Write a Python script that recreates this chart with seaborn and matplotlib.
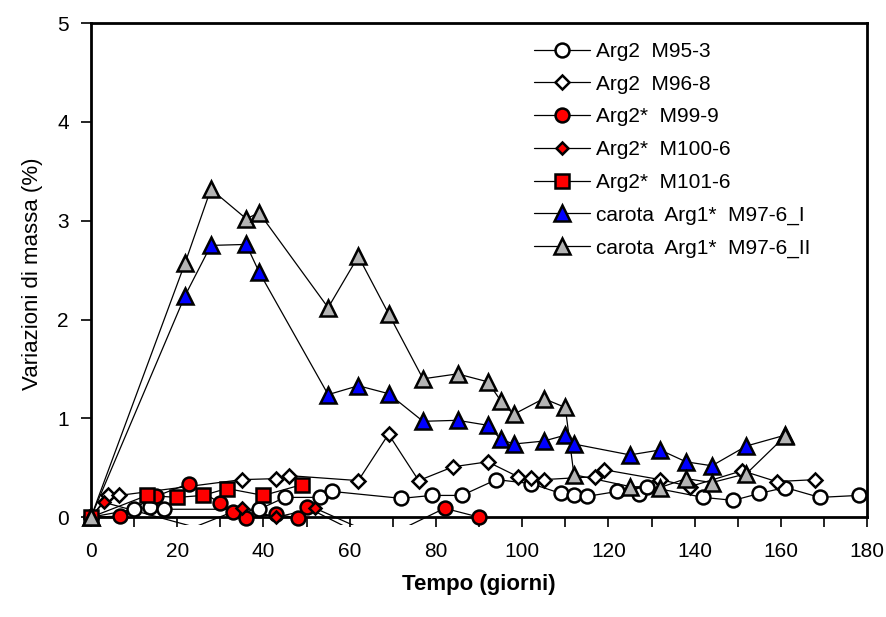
import numpy as np
import pandas as pd
import matplotlib.pyplot as plt
from matplotlib.lines import Line2D
from matplotlib.ticker import MultipleLocator
import seaborn as sns

# giorni / variazione di massa (%) per ciascun campione
days_m95 = [0, 10, 13.7, 17, 39, 45, 53, 56, 72, 79, 86, 94, 102, 109, 112, 115,
            122, 127, 129, 142, 149, 155, 161, 169, 178]
mass_m95 = [0, 0.08, 0.10, 0.08, 0.08, 0.20, 0.20, 0.26, 0.19, 0.22, 0.22, 0.38, 0.34,
            0.24, 0.22, 0.21, 0.26, 0.23, 0.31, 0.20, 0.17, 0.24, 0.30, 0.20, 0.22]

days_m96 = [0, 4, 6.5, 35, 43, 46, 62, 69, 76, 84, 92, 99, 102, 105, 117, 119,
            132, 139, 151, 159, 168]
mass_m96 = [0, 0.22, 0.22, 0.38, 0.39, 0.42, 0.37, 0.84, 0.37, 0.51, 0.56, 0.41,
            0.40, 0.38, 0.41, 0.48, 0.38, 0.31, 0.47, 0.36, 0.38]

days_m99 = [0, 6.7, 15, 22.7, 30, 33, 36, 43, 48, 50, 66, 82, 90]
mass_m99 = [0, 0.01, 0.21, 0.34, 0.14, 0.05, -0.01, 0.03, -0.01, 0.10, -0.25, 0.09, 0.0]

days_m100 = [0, 3, 24, 35, 43, 52, 72]
mass_m100 = [0, 0.15, -0.10, 0.09, 0.0, 0.09, -0.30]

days_m101 = [0, 13, 20, 26, 31.5, 40, 49]
mass_m101 = [0, 0.22, 0.20, 0.22, 0.29, 0.22, 0.33]

days_car = [0, 21.8, 27.8, 36, 39, 55, 62, 69, 77, 85, 92, 95, 98, 105, 110, 112,
            125, 132, 138, 144, 152, 161]
mass_car_i = [0, 2.24, 2.75, 2.76, 2.48, 1.24, 1.33, 1.25, 0.97, 0.98, 0.93, 0.79,
              0.74, 0.77, 0.83, 0.74, 0.63, 0.68, 0.56, 0.52, 0.72, 0.83]
mass_car_ii = [0, 2.57, 3.32, 3.02, 3.08, 2.12, 2.64, 2.06, 1.40, 1.45, 1.37, 1.18,
               1.04, 1.20, 1.11, 0.43, 0.31, 0.30, 0.39, 0.35, 0.44, 0.82]

labels = ["Arg2  M95-3", "Arg2  M96-8", "Arg2*  M99-9", "Arg2*  M100-6",
          "Arg2*  M101-6", "carota  Arg1*  M97-6_I", "carota  Arg1*  M97-6_II"]

series = [
    (days_m95, mass_m95, "o", "white", 10),
    (days_m96, mass_m96, "D", "white", 7.5),
    (days_m99, mass_m99, "o", "red", 10),
    (days_m100, mass_m100, "D", "red", 6.5),
    (days_m101, mass_m101, "s", "red", 9.5),
    (days_car, mass_car_i, "^", "blue", 11),
    (days_car, mass_car_ii, "^", "#b4b4b4", 11),
]

sns.set_style("ticks")
plt.rcParams["font.family"] = ["Liberation Sans", "DejaVu Sans"]
plt.rcParams["text.color"] = "black"
plt.rcParams["axes.labelcolor"] = "black"
plt.rcParams["xtick.color"] = "black"
plt.rcParams["ytick.color"] = "black"
plt.rcParams["axes.edgecolor"] = "black"

fig = plt.figure(figsize=(8.86, 6.17), dpi=100)
ax = fig.add_axes([0.1027, 0.149, 0.876, 0.8136])

handles = []
for (d, m, mk, fc, ms), lab in zip(series, labels):
    df = pd.DataFrame({"giorni": d, "massa": m})
    sns.lineplot(data=df, x="giorni", y="massa", ax=ax, color="black", lw=0.9,
                 estimator=None, sort=False)
    vis = df[df["massa"] > -0.05]
    ax.plot(vis["giorni"], vis["massa"], ls="none", marker=mk, ms=ms,
            mfc=fc, mec="black", mew=1.8, clip_on=False, zorder=3)
    handles.append(Line2D([], [], color="black", lw=0.9, marker=mk, ms=ms,
                          mfc=fc, mec="black", mew=1.8))

ax.set_xlim(0, 180)
ax.set_ylim(-0.08, 5)
ax.spines["bottom"].set_position(("data", 0))
ax.spines["left"].set_bounds(0, 5)
ax.spines["right"].set_bounds(0, 5)
for s in ax.spines.values():
    s.set_linewidth(2)
    s.set_visible(True)
    s.set_color("black")

ax.xaxis.set_major_locator(MultipleLocator(20))
ax.xaxis.set_minor_locator(MultipleLocator(10))
ax.yaxis.set_major_locator(MultipleLocator(1))
ax.tick_params(axis="both", which="both", direction="out", length=7, width=1.2,
               labelsize=15, top=False, right=False, colors="black")
ax.tick_params(axis="x", pad=11)
ax.tick_params(axis="y", pad=9)

ax.set_xlabel("Tempo (giorni)", fontsize=16, fontweight="bold", labelpad=9)
ax.set_ylabel("Variazioni di massa (%)", fontsize=16, labelpad=10)

ax.legend(handles, labels, loc="upper left", bbox_to_anchor=(0.546, 1.0),
          frameon=False, fontsize=15, handlelength=2.7, handletextpad=0.3,
          labelspacing=0.66)

fig.savefig("out.png", dpi=100)
